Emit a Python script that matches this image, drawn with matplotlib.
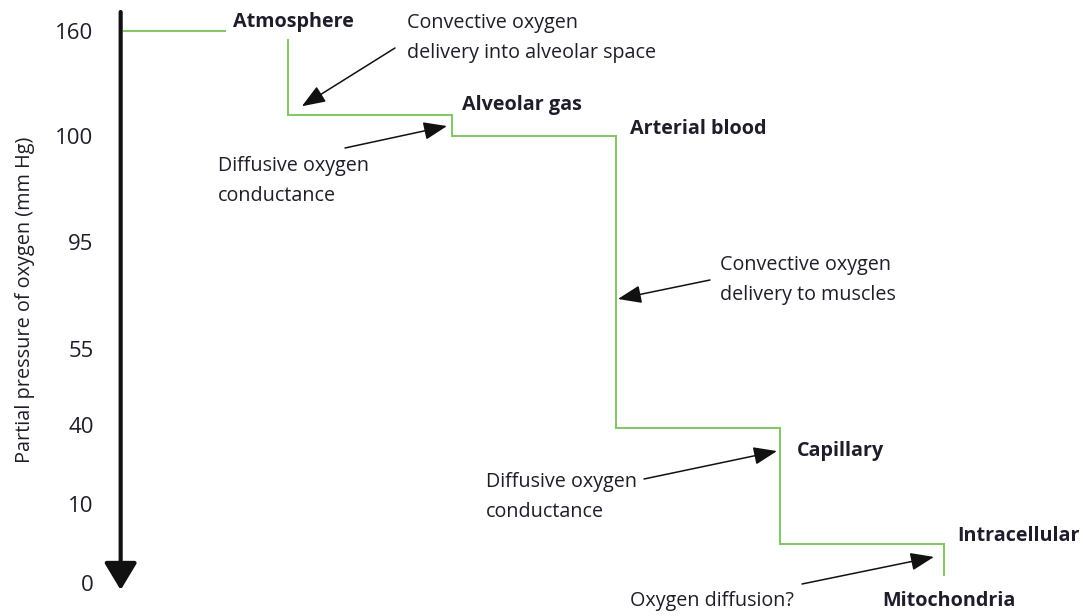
import numpy as np
import matplotlib
matplotlib.use("Agg")
import matplotlib.pyplot as plt
from matplotlib.scale import FuncScale

# Oxygen cascade: stage labels and partial pressure levels (mm Hg)
stages = ["Atmosphere", "Alveolar gas", "Arterial blood", "Capillary", "Intracellular", "Mitochondria"]
po2_levels = [160, 112, 100, 39, 5, 1]
step_x = [0, 1, 2, 3, 4, 5]  # stage boundaries along x

# Tick values on the (non-linear) vertical axis
tick_values = [0, 10, 40, 55, 95, 100, 160]
tick_labels = ["0", "10", "40", "55", "95", "100", "160"]
tick_pos = [0, 79, 158, 234, 341, 447, 552]  # spacing used by the figure

# explanatory notes: text, arrow tip (data), arrow tail and text anchor (figure px from top-left)
notes = ["Convective oxygen\ndelivery into alveolar space", "Diffusive oxygen\nconductance",
         "Convective oxygen\ndelivery to muscles", "Diffusive oxygen\nconductance", "Oxygen diffusion?"]
note_tips = [(1.085, 117), (1.97, 105.7), (3.012, 73.7), (3.982, 30.1), (4.939, 3.3)]
note_tails = [(395, 48), (345, 148), (710, 280), (644, 479), (802, 584)]
note_text_pos = [(407, 38), (218, 181), (720, 280), (486, 497), (630, 601)]
stage_label_pos = [(233, 22), (462, 105), (630, 129), (797, 451), (957, 536), (882, 601)]

W, H = 1084, 616
TXT = "#1e1e2a"
GREEN = "#86c66a"
plt.rcParams["font.family"] = ["Open Sans", "DejaVu Sans"]

slope_lo = (tick_pos[1] - tick_pos[0]) / (tick_values[1] - tick_values[0])
slope_hi = (tick_pos[-1] - tick_pos[-2]) / (tick_values[-1] - tick_values[-2])


def forward(v):
    v = np.asarray(v, dtype=float)
    out = np.interp(v, tick_values, tick_pos)
    out = np.where(v < tick_values[0], tick_pos[0] + (v - tick_values[0]) * slope_lo, out)
    out = np.where(v > tick_values[-1], tick_pos[-1] + (v - tick_values[-1]) * slope_hi, out)
    return out


def inverse(p):
    p = np.asarray(p, dtype=float)
    out = np.interp(p, tick_pos, tick_values)
    out = np.where(p < tick_pos[0], tick_values[0] + (p - tick_pos[0]) / slope_lo, out)
    out = np.where(p > tick_pos[-1], tick_values[-1] + (p - tick_pos[-1]) / slope_hi, out)
    return out


def fpx(x, y):
    # top-left pixel -> figure fraction
    return x / W, (H - y) / H


fig = plt.figure(figsize=(W / 100, H / 100), dpi=100)
ax = fig.add_axes([120 / W, 0, (W - 120) / W, 1])
ax.set_yscale(FuncScale(ax.yaxis, (forward, inverse)))
ax.set_xlim(-0.024, 5.854)
ax.set_ylim(inverse(-33), inverse(583))
for s in ax.spines.values():
    s.set_visible(False)
ax.set_xticks([])
ax.set_yticks(tick_values)
ax.set_yticklabels(tick_labels, fontsize=16, color=TXT)
ax.tick_params(axis="y", length=0, pad=19)
fig.text(*fpx(25, 300), "Partial pressure of oxygen (mm Hg)", fontsize=14.3, color=TXT,
         rotation=90, ha="center", va="center")

# vertical axis arrow
ax.annotate("", xy=(-0.02, inverse(-7)), xytext=(-0.02, inverse(571)),
            arrowprops=dict(arrowstyle="-|>,head_length=0.83,head_width=0.5", lw=3, color="#111111",
                            mutation_scale=20, shrinkA=0, shrinkB=0))

# step line
xs = [step_x[0]]
ys = [po2_levels[0]]
for i in range(1, len(po2_levels)):
    xs += [step_x[i], step_x[i]]
    ys += [po2_levels[i - 1], po2_levels[i]]
ax.plot(xs, ys, color=GREEN, lw=1.5, zorder=1, solid_joinstyle="miter")

# stage labels
for name, (x, y) in zip(stages, stage_label_pos):
    fig.text(*fpx(x, y), name, fontsize=14.2, fontweight="bold", color=TXT, va="center", ha="left",
             zorder=3,
             bbox=dict(facecolor="white", edgecolor="none", pad=5) if name == "Atmosphere" else None)

# explanatory arrows and notes
for text, tip, tail, tpos in zip(notes, note_tips, note_tails, note_text_pos):
    ax.annotate("", xy=tip, xycoords="data", xytext=(tail[0], H - tail[1]), textcoords="figure pixels",
                arrowprops=dict(arrowstyle="-|>,head_length=1.44,head_width=0.55", lw=1.1, color="#111111",
                                mutation_scale=10, shrinkA=0, shrinkB=0))
    fig.text(*fpx(*tpos), text, fontsize=14.2, color=TXT, ha="left", va="center", linespacing=1.65)

fig.savefig("out.png", dpi=100)
